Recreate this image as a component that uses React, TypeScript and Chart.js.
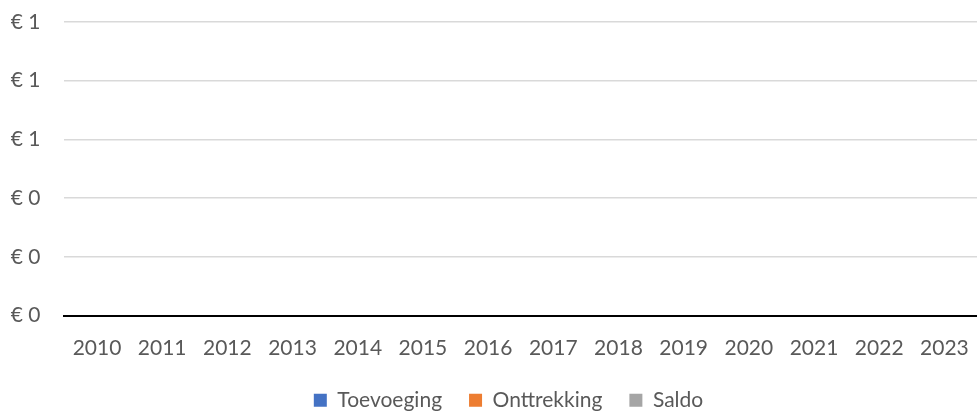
import React, { useEffect, useRef } from "react";
import { Chart, registerables } from "chart.js";

Chart.register(...registerables);

const years = ["2010","2011","2012","2013","2014","2015","2016","2017","2018","2019","2020","2021","2022","2023"];
const toevoeging = [0,0,0,0,0,0,0,0,0,0,0,0,0,0];
const onttrekking = [0,0,0,0,0,0,0,0,0,0,0,0,0,0];
const saldo = [0,0,0,0,0,0,0,0,0,0,0,0,0,0];
const yMin = 0;
const yMax = 1;
const yStep = 0.2;

const shiftLegend = {
  id: "shiftLegend",
  afterLayout(chart: any) {
    const lg = chart.legend;
    if (lg) {
      lg.left += 16;
      lg.right += 16;
    }
  },
};

export default function App() {
  const ref = useRef<HTMLCanvasElement | null>(null);
  useEffect(() => {
    if (!ref.current) return;
    const font = { family: "Lato, 'Open Sans', sans-serif", size: 21 };
    const chart = new Chart(ref.current, {
      type: "bar",
      data: {
        labels: years,
        datasets: [
          { label: "Toevoeging", data: toevoeging, backgroundColor: "#4472C4" },
          { label: "Onttrekking", data: onttrekking, backgroundColor: "#ED7D31" },
          { label: "Saldo", data: saldo, backgroundColor: "#A5A5A5" },
        ],
      },
      plugins: [shiftLegend],
      options: {
        animation: false,
        responsive: false,
        maintainAspectRatio: false,
        layout: { padding: { left: 8, right: 0, top: 22, bottom: -8.7 } },
        plugins: {
          tooltip: { enabled: false },
          legend: {
            position: "bottom",
            labels: {
              boxWidth: 13,
              boxHeight: 13,
              padding: 27,
              color: "#595959",
              font,
            },
          },
        },
        scales: {
          x: {
            grid: { display: false, drawTicks: false },
            border: { display: true, color: "#000000", width: 2 },
            ticks: { color: "#595959", font, padding: 20, maxRotation: 0, autoSkip: false },
            afterFit: (scale: any) => {
              scale.height -= 18;
              scale.paddingLeft = 0;
              scale.paddingRight = 0;
            },
          },
          y: {
            min: yMin,
            max: yMax,
            grid: { color: "#d9d9d9", lineWidth: 1.5, drawTicks: false },
            border: { display: false },
            ticks: {
              stepSize: yStep,
              color: "#595959",
              font,
              padding: 24,
              callback: (v: any) => "€ " + Math.round(Number(v)),
            },
            afterFit: (scale: any) => {
              scale.width = 56.4;
              scale.paddingTop = 0;
              scale.paddingBottom = 0;
            },
          },
        },
      },
    });
    return () => chart.destroy();
  }, []);
  return (
    <div style={{ position: "fixed", left: 0, top: 0, width: 977, height: 412, background: "#fff" }}>
      <canvas ref={ref} width={977} height={412} />
    </div>
  );
}
